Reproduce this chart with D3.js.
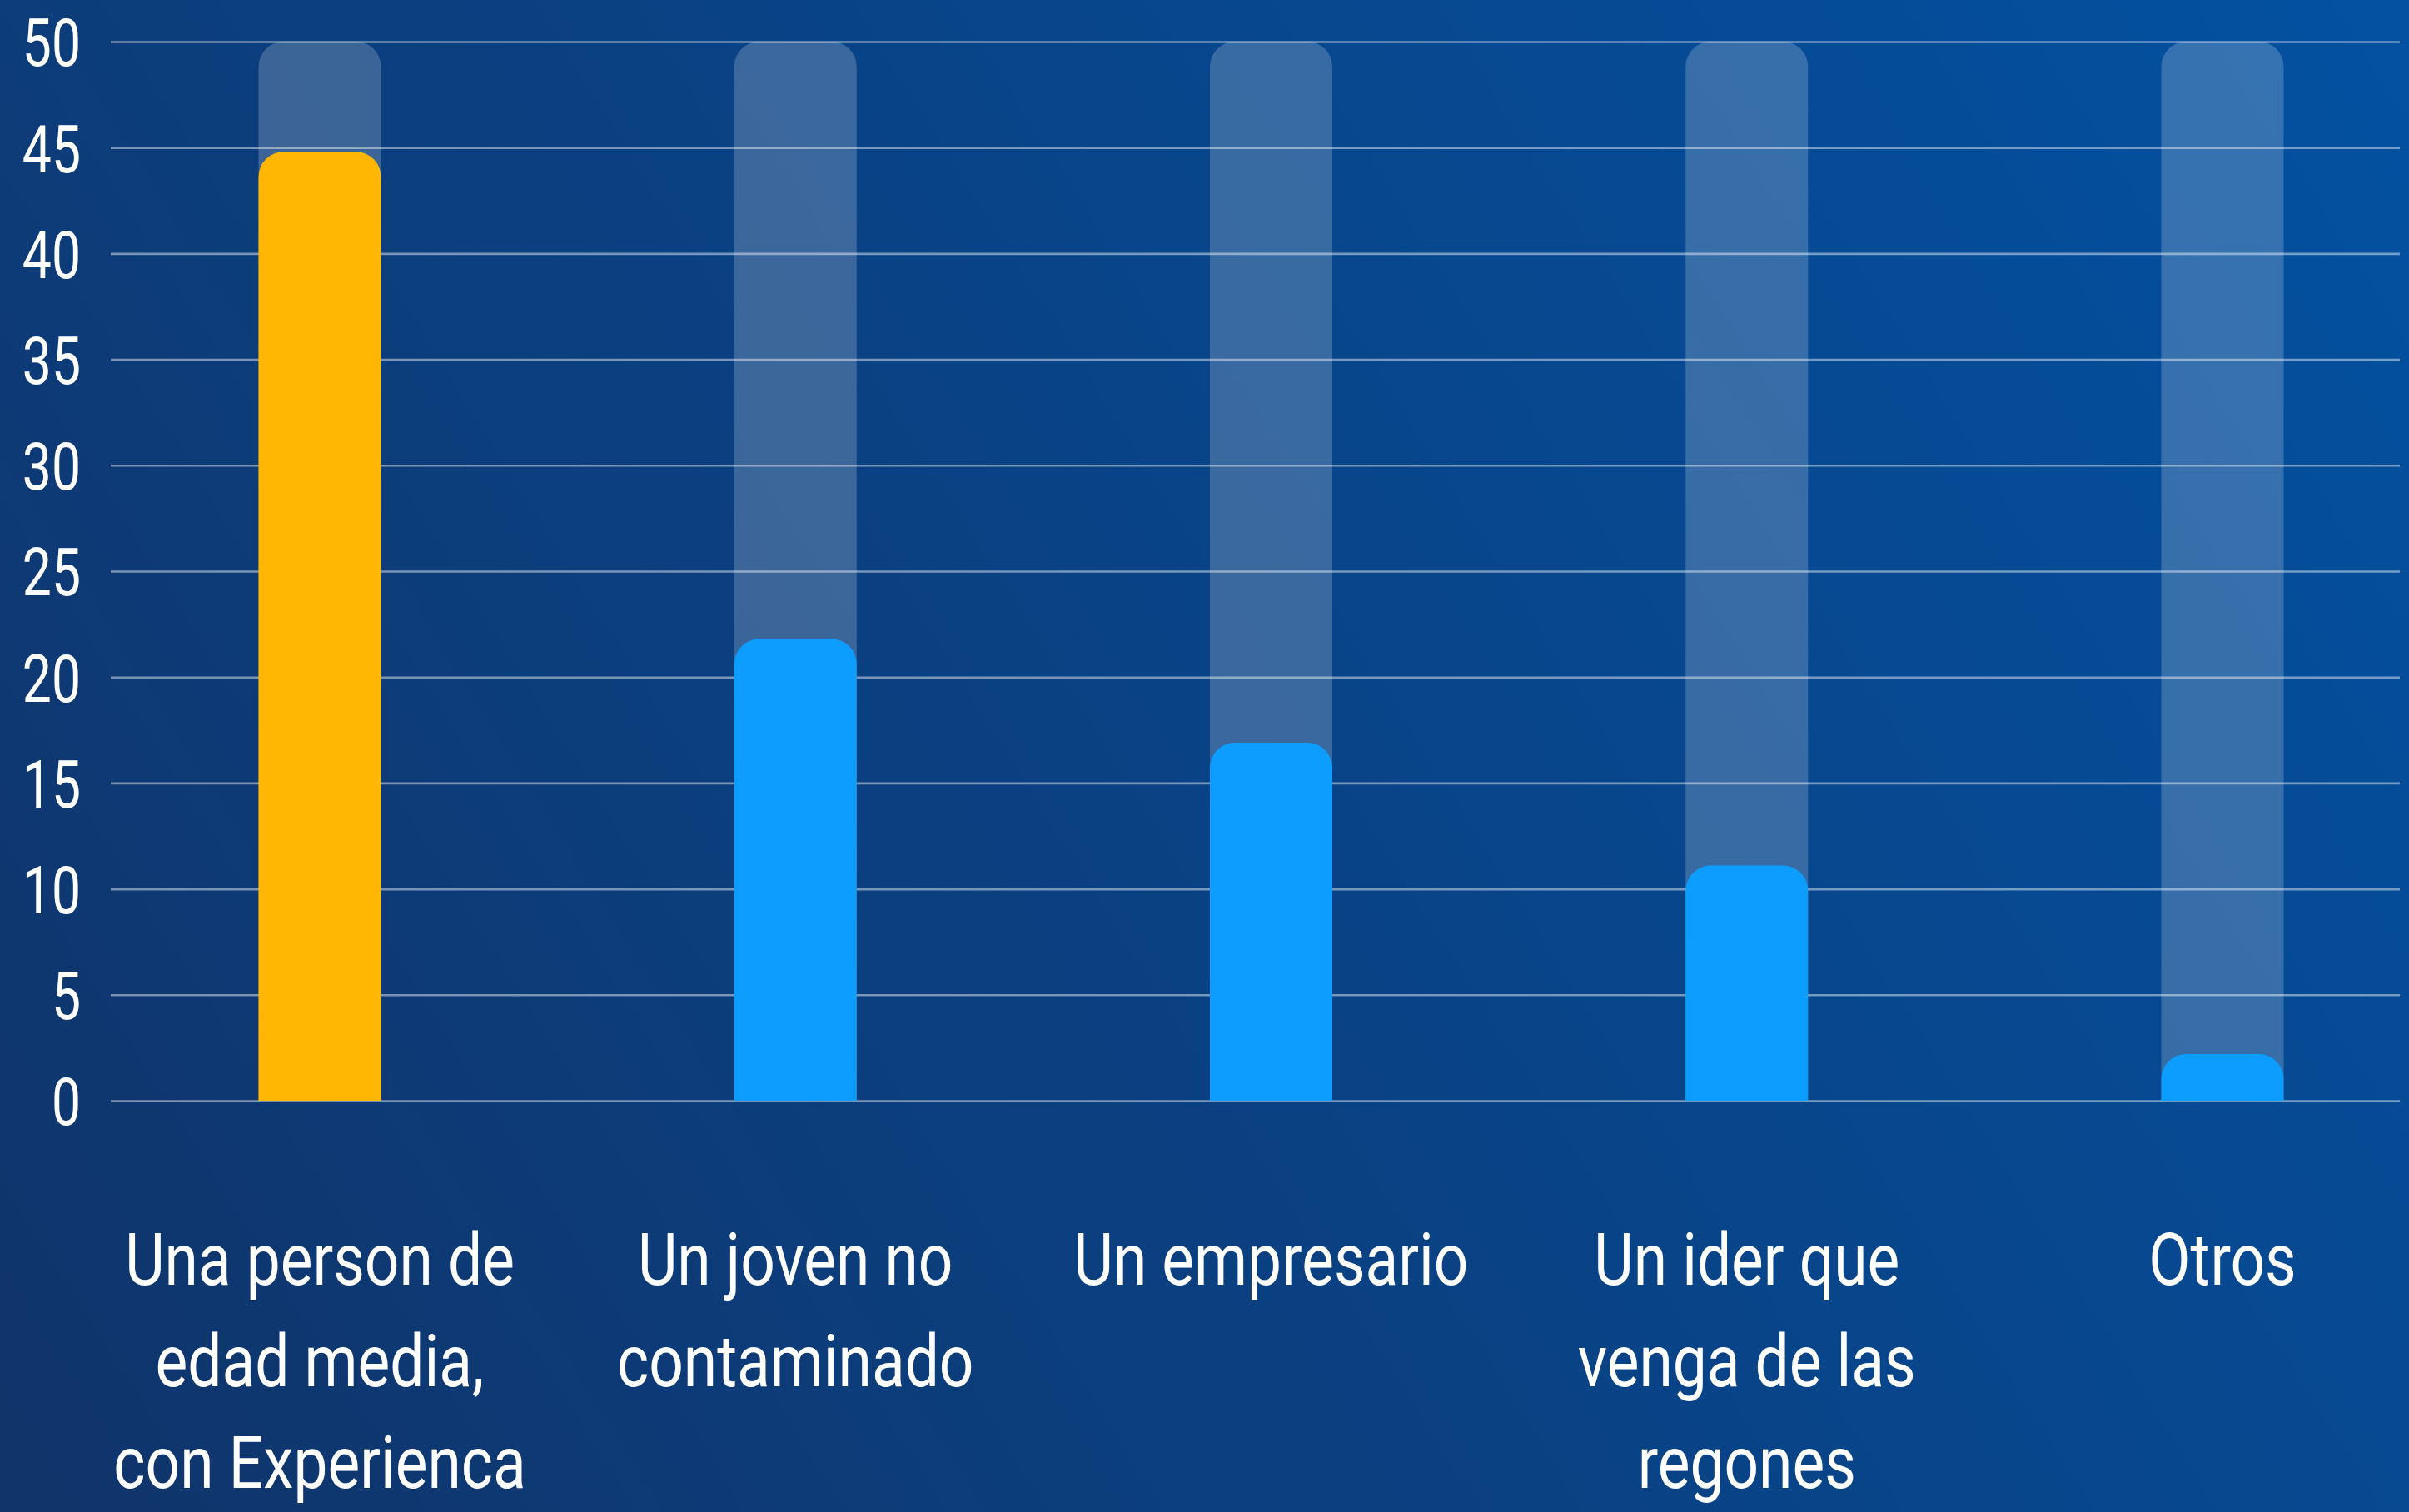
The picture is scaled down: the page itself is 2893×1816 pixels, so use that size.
<!DOCTYPE html>
<html>
<head>
<meta charset="utf-8">
<script src="https://cdn.jsdelivr.net/npm/d3@7"></script>
<style>
  html, body { margin: 0; padding: 0; background: #0b3d7a; }
  svg { display: block; }
  text { font-family: Roboto, "DejaVu Sans Condensed", sans-serif; fill: #ffffff; }
</style>
</head>
<body>
<script>
// chart data
var categories = ["persona", "joven", "empresario", "lider", "otros"];
var labelLines = [
  ["Una person de", "edad media,", "con Experienca"],
  ["Un joven no", "contaminado"],
  ["Un empresario"],
  ["Un ider que", "venga de las", "regones"],
  ["Otros"]
];
var values = [44.8, 21.8, 16.9, 11.1, 2.2];
var highlight = [true, false, false, false, false];
var yTicks = [0, 5, 10, 15, 20, 25, 30, 35, 40, 45, 50];

var W = 2893, H = 1816;
var svg = d3.select("body").append("svg")
  .attr("width", W)
  .attr("height", H);

var grad = svg.append("defs").append("linearGradient")
  .attr("id", "bg")
  .attr("gradientUnits", "userSpaceOnUse")
  .attr("x1", 0).attr("y1", H)
  .attr("x2", W).attr("y2", 0);
grad.append("stop").attr("offset", 0).attr("stop-color", "#10346a");
grad.append("stop").attr("offset", 1).attr("stop-color", "#0351a1");

svg.append("rect")
  .attr("width", W)
  .attr("height", H)
  .attr("fill", "url(#bg)");

var gridX0 = 133, gridX1 = 2882;
var barW = 147, radius = 30;
var squeezeTick = 0.78, squeezeLab = 0.83;  // narrow the font, like a condensed face

var y = d3.scaleLinear().domain([0, 50]).range([1322, 50]);
var x = d3.scalePoint().domain(categories).range([384, 2669]);

// top-rounded bar path
function topRounded(cx, yTop, yBase){
  var x0 = cx - barW / 2, x1 = cx + barW / 2;
  var r = Math.min(radius, (yBase - yTop), barW / 2);
  return "M" + x0 + "," + yBase +
    "V" + (yTop + r) +
    "A" + r + "," + r + " 0 0 1 " + (x0 + r) + "," + yTop +
    "H" + (x1 - r) +
    "A" + r + "," + r + " 0 0 1 " + x1 + "," + (yTop + r) +
    "V" + yBase + "Z";
}

// background tracks
svg.append("g").selectAll("path")
  .data(categories)
  .join("path")
    .attr("d", function(d){ return topRounded(x(d), y(50), y(0)); })
    .attr("fill", "#ffffff")
    .attr("fill-opacity", 0.2);

// gridlines + tick labels
var axis = d3.axisLeft(y)
  .tickValues(yTicks)
  .tickSize(-(gridX1 - gridX0))
  .tickPadding(36)
  .tickFormat(d3.format("d"));

var gAxis = svg.append("g")
  .attr("transform", "translate(" + gridX0 + ",0)")
  .call(axis);
gAxis.select(".domain").remove();
gAxis.selectAll(".tick line")
  .attr("stroke", "#ffffff")
  .attr("stroke-opacity", 0.45)
  .attr("stroke-width", 2.6);
gAxis.selectAll(".tick text")
  .attr("font-size", 80)
  .attr("font-family", "Roboto, sans-serif")
  .attr("fill", "#ffffff")
  .attr("x", -36 / squeezeTick)
  .attr("transform", "scale(" + squeezeTick + ",1)")
  .attr("dy", "0.36em");

// value bars
svg.append("g").selectAll("path")
  .data(values)
  .join("path")
    .attr("d", function(d, i){ return topRounded(x(categories[i]), y(d), y(0)); })
    .attr("fill", function(d, i){ return highlight[i] ? "#ffb703" : "#0c9dff"; });

// category labels
var gLab = svg.append("g")
  .attr("font-size", 88)
  .attr("text-anchor", "middle");
gLab.selectAll("g")
  .data(labelLines)
  .join("g")
    .attr("transform", function(d, i){
      return "translate(" + x(categories[i]) + ",1543) scale(" + squeezeLab + ",1)";
    })
  .append("text")
  .selectAll("tspan")
  .data(function(d){ return d; })
  .join("tspan")
    .attr("x", 0)
    .attr("dy", function(d, j){ return j === 0 ? 0 : 122; })
    .text(function(d){ return d; });
</script>
</body>
</html>
